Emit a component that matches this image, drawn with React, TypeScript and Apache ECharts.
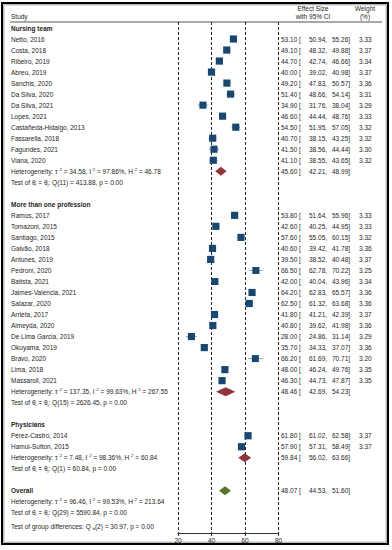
import React, { useEffect, useRef } from 'react';
import * as echarts from 'echarts';

// ---------- data ----------
const nursingStudies = ['Netto, 2016', 'Costa, 2018', 'Ribeiro, 2019', 'Abreu, 2019', 'Sanchis, 2020', 'Da Silva, 2020', 'Da Silva, 2021', 'Lopes, 2021', 'Castañeda-Hidalgo, 2013', 'Fassarella, 2018', 'Fagundes, 2021', 'Viana, 2020'];
const nursingEffect = [53.1, 49.1, 44.7, 40.0, 49.2, 51.4, 34.9, 46.6, 54.5, 40.7, 41.5, 41.1];
const nursingLower = [50.94, 48.32, 42.74, 39.02, 47.83, 48.66, 31.76, 44.44, 51.95, 38.15, 38.56, 38.55];
const nursingUpper = [55.26, 49.88, 46.66, 40.98, 50.57, 54.14, 38.04, 48.76, 57.05, 43.25, 44.44, 43.65];
const nursingWeight = [3.33, 3.37, 3.34, 3.37, 3.36, 3.31, 3.29, 3.33, 3.32, 3.32, 3.30, 3.32];

const multiStudies = ['Ramos, 2017', 'Tomazoni, 2015', 'Santiago, 2015', 'Galvão, 2018', 'Antunes, 2019', 'Pedroni, 2020', 'Batista, 2021', 'Jaimes-Valencia, 2021', 'Salazar, 2020', 'Arrieta, 2017', 'Almeyda, 2020', 'De Lima Garcia, 2019', 'Okuyama, 2019', 'Bravo, 2020', 'Lima, 2018', 'Massaroli, 2021'];
const multiEffect = [53.8, 42.6, 57.6, 40.6, 39.5, 66.5, 42.0, 64.2, 62.5, 41.8, 40.8, 28.0, 35.7, 66.2, 48.0, 46.3];
const multiLower = [51.64, 40.25, 55.05, 39.42, 38.52, 62.78, 40.04, 62.83, 61.32, 41.21, 39.62, 24.86, 34.33, 61.69, 46.24, 44.73];
const multiUpper = [55.96, 44.95, 60.15, 41.78, 40.48, 70.22, 43.96, 65.57, 63.68, 42.39, 41.98, 31.14, 37.07, 70.71, 49.76, 47.87];
const multiWeight = [3.33, 3.33, 3.32, 3.36, 3.37, 3.25, 3.34, 3.36, 3.36, 3.37, 3.36, 3.29, 3.36, 3.20, 3.35, 3.35];

const physStudies = ['Pérez-Castro, 2014', 'Hamui-Sutton, 2015'];
const physEffect = [61.8, 57.9];
const physLower = [61.02, 57.31];
const physUpper = [62.58, 58.49];
const physWeight = [3.37, 3.37];

const subgroupNames = ['Nursing team', 'More than one profession', 'Physicians'];
const subgroupEffect = [45.6, 48.46, 59.84];
const subgroupLower = [42.21, 42.69, 56.02];
const subgroupUpper = [48.99, 54.23, 63.66];
const subgroupTau2 = ['34.58', '137.35', '7.48'];
const subgroupI2 = ['97.86', '99.63', '98.36'];
const subgroupH2 = ['46.78', '267.55', '60.84'];
const subgroupQdf = [11, 15, 1];
const subgroupQ = ['413.88', '2626.45', '60.84'];
const subgroupP = ['0.00', '0.00', '0.00'];

const overallLabel = 'Overall';
const overallEffect = 48.07;
const overallLower = 44.53;
const overallUpper = 51.6;
const overallTau2 = '96.46';
const overallI2 = '99.53';
const overallH2 = '213.64';
const overallQdf = 29;
const overallQ = '5590.84';
const overallP = '0.00';
const groupDiffDf = 2;
const groupDiffQ = '30.97';
const groupDiffP = '0.00';

const xTicks = [20, 40, 60, 80];

// ---------- rows ----------
type Row = {
  y: number;
  label: string;
  rich?: boolean;
  kind: 'header' | 'study' | 'subtotal' | 'text' | 'overall';
  est?: number;
  lo?: number;
  hi?: number;
  w?: number;
};

const hetText = (t: string, i: string, h: string) =>
  `{n|Heterogeneity: τ }{p|2}{n| = ${t}, I }{p|2}{n| = ${i}%, H }{p|2}{n| = ${h}}`;
const testText = (df: number, q: string, p: string) =>
  `{n|Test of θ}{b|i}{n| = θ}{b|j}{n|: Q(${df}) = ${q}, p = ${p}}`;
const groupDiffText = `{n|Test of group differences: Q }{b|b}{n|(${groupDiffDf}) = ${groupDiffQ}, p = ${groupDiffP}}`;

const groups = [
  { studies: nursingStudies, eff: nursingEffect, lo: nursingLower, hi: nursingUpper, w: nursingWeight },
  { studies: multiStudies, eff: multiEffect, lo: multiLower, hi: multiUpper, w: multiWeight },
  { studies: physStudies, eff: physEffect, lo: physLower, hi: physUpper, w: physWeight },
];

const rows: Row[] = [];
let r = 0;
groups.forEach((g, gi) => {
  rows.push({ y: r++, label: subgroupNames[gi], kind: 'header' });
  g.studies.forEach((s, i) => {
    rows.push({ y: r++, label: s, kind: 'study', est: g.eff[i], lo: g.lo[i], hi: g.hi[i], w: g.w[i] });
  });
  rows.push({
    y: r++, label: hetText(subgroupTau2[gi], subgroupI2[gi], subgroupH2[gi]), rich: true, kind: 'subtotal',
    est: subgroupEffect[gi], lo: subgroupLower[gi], hi: subgroupUpper[gi],
  });
  rows.push({ y: r++, label: testText(subgroupQdf[gi], subgroupQ[gi], subgroupP[gi]), rich: true, kind: 'text' });
  r++;
});
rows.push({ y: r++, label: overallLabel, kind: 'overall', est: overallEffect, lo: overallLower, hi: overallUpper });
rows.push({ y: r++, label: hetText(overallTau2, overallI2, overallH2), rich: true, kind: 'text' });
rows.push({ y: r++, label: testText(overallQdf, overallQ, overallP), rich: true, kind: 'text' });
rows.push({ y: r + 0.25, label: groupDiffText, rich: true, kind: 'text' });

const FONT = '"Liberation Sans", Arial, "DejaVu Sans", sans-serif';
const FS = 6.5;
const TXT = '#262626';
const NAVY = '#1a476f';
const MAROON = '#90353b';
const GREEN = '#55752f';
const CI = '#8da4bf';

const RICH = {
  n: { fontSize: FS, fontFamily: FONT, fill: TXT, verticalAlign: 'middle' },
  p: { fontSize: 4.3, fontFamily: FONT, fill: TXT, verticalAlign: 'top' },
  b: { fontSize: 4.3, fontFamily: FONT, fill: TXT, verticalAlign: 'bottom' },
};

export default function App() {
  const ref = useRef<HTMLDivElement>(null);
  useEffect(() => {
    document.body.style.margin = '0';
    if (!ref.current) return;
    const chart = echarts.init(ref.current, undefined, { renderer: 'svg' });

    const txt = (text: string, x: number, y: number, extra: any = {}) => ({
      type: 'text',
      style: { text, x, y, fontSize: FS, fontFamily: FONT, fill: TXT, align: 'left', verticalAlign: 'middle', ...extra },
    });

    const renderItem = (params: any, api: any) => {
      const row = rows[params.dataIndex];
      const p20 = api.coord([xTicks[0], row.y]);
      const p80 = api.coord([xTicks[xTicks.length - 1], row.y]);
      const y = p20[1];
      const leftX = p20[0] - 167;
      const children: any[] = [];
      if (row.rich) {
        children.push(txt(row.label, leftX, y, { rich: RICH, lineHeight: 8 }));
      } else {
        const bold = row.kind === 'header' || row.kind === 'overall';
        children.push(txt(row.label, leftX, y, bold ? { fontWeight: 'bold' } : {}));
      }
      if (row.est !== undefined && row.lo !== undefined && row.hi !== undefined) {
        const xe = api.coord([row.est, row.y])[0];
        const xl = api.coord([row.lo, row.y])[0];
        const xh = api.coord([row.hi, row.y])[0];
        if (row.kind === 'study') {
          const s = 7.2 * Math.sqrt((row.w as number) / 3.37);
          children.push({ type: 'line', shape: { x1: xl, y1: y, x2: xh, y2: y }, style: { stroke: CI, lineWidth: 1 } });
          children.push({ type: 'rect', shape: { x: xe - s / 2, y: y - s / 2, width: s, height: s }, style: { fill: NAVY } });
        } else {
          const h = 4.5;
          children.push({
            type: 'polygon',
            shape: { points: [[xl, y], [xe, y - h], [xh, y], [xe, y + h]] },
            style: { fill: row.kind === 'overall' ? GREEN : MAROON },
          });
        }
        const x0 = p80[0];
        children.push(txt(`${row.est.toFixed(2)} [`, x0 + 2.5, y));
        children.push(txt(`${row.lo.toFixed(2)},`, x0 + 30.5, y));
        children.push(txt(`${row.hi.toFixed(2)}]`, x0 + 53.5, y));
        if (row.w !== undefined) children.push(txt(row.w.toFixed(2), x0 + 80.5, y));
      }
      return { type: 'group', children };
    };

    chart.setOption({
      animation: false,
      grid: { left: 178, right: 113.5, top: 22, bottom: 17 },
      xAxis: {
        type: 'value',
        min: 20,
        max: 80,
        interval: 20,
        position: 'bottom',
        axisLine: { show: true, onZero: false, lineStyle: { color: '#333', width: 1 } },
        axisTick: { show: true, length: 3, lineStyle: { color: '#333' } },
        axisLabel: { fontSize: FS, color: TXT, margin: 4, fontFamily: FONT },
        splitLine: { show: true, lineStyle: { type: [3, 2], color: '#222', width: 1 } },
      },
      yAxis: { type: 'value', inverse: true, min: -0.5445, max: 45.826, show: false },
      series: [
        {
          type: 'custom',
          clip: false,
          renderItem,
          encode: { x: 0, y: 1 },
          data: rows.map((rw) => [rw.est ?? 20, rw.y]),
        },
      ],
      graphic: [
        { type: 'rect', shape: { x: 2, y: 3, width: 386, height: 541 }, style: { fill: 'none', stroke: '#000', lineWidth: 2 }, silent: true },
        { type: 'rect', shape: { x: 3.8, y: 4.8, width: 382.4, height: 537.4 }, style: { fill: 'none', stroke: '#9a9a9a', lineWidth: 1 }, silent: true },
        { type: 'line', shape: { x1: 10, y1: 22, x2: 382, y2: 22 }, style: { stroke: '#8c8c8c', lineWidth: 1.5 } },
        { type: 'text', style: { text: 'Study', x: 11, y: 16, fontSize: FS, fontFamily: FONT, fill: TXT, verticalAlign: 'middle' } },
        { type: 'text', style: { text: 'Effect Size', x: 313, y: 8, fontSize: FS, fontFamily: FONT, fill: TXT, align: 'center', verticalAlign: 'middle' } },
        { type: 'text', style: { text: 'with 95% CI', x: 313, y: 16, fontSize: FS, fontFamily: FONT, fill: TXT, align: 'center', verticalAlign: 'middle' } },
        { type: 'text', style: { text: 'Weight', x: 365, y: 8, fontSize: FS, fontFamily: FONT, fill: TXT, align: 'center', verticalAlign: 'middle' } },
        { type: 'text', style: { text: '(%)', x: 365, y: 16, fontSize: FS, fontFamily: FONT, fill: TXT, align: 'center', verticalAlign: 'middle' } },
      ],
    });
    return () => chart.dispose();
  }, []);
  return <div ref={ref} style={{ width: 392, height: 550 }} />;
}
